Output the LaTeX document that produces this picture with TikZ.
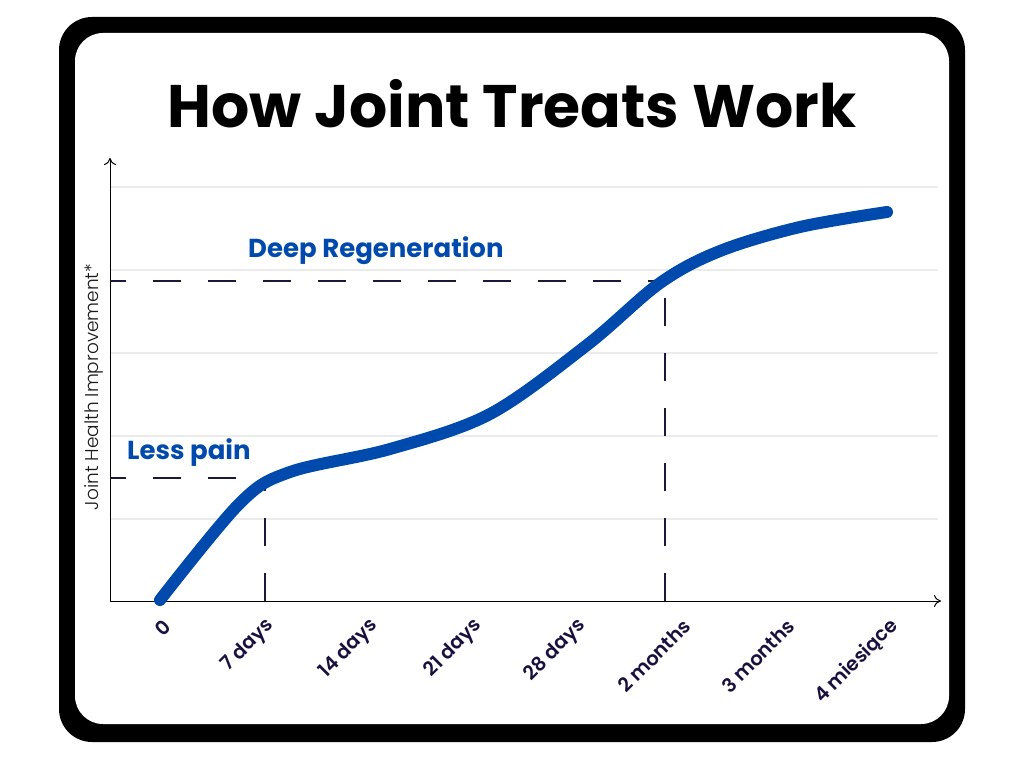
\documentclass[tikz,border=0pt]{standalone}
\usepackage{fontspec}
\setmainfont{Poppins}
\newfontfamily\psemi{Poppins SemiBold}
\newfontfamily\plight{Poppins Light}
\usetikzlibrary{arrows.meta}
\definecolor{cblue}{HTML}{004AAD}
\definecolor{navy}{HTML}{1A1040}
\definecolor{gridc}{HTML}{EBEBEB}
\definecolor{dashc}{HTML}{1E1838}
\tikzset{
  gridline/.style={draw=gridc, line width=1.2pt},
  axisline/.style={draw=black, line width=1pt, -{To[length=7pt,width=12pt]}},
  dashline/.style={draw=dashc, line width=1.8pt, dash pattern=on 28pt off 27pt, dash phase=12pt},
  curve/.style={draw=cblue, line width=12pt, line cap=round, line join=round},
  ticklabel/.style={font=\psemi\fontsize{19.5}{22}\selectfont, text=navy, rotate=45, anchor=east, inner sep=0pt},
  stagelabel/.style={font=\bfseries\fontsize{26}{30}\selectfont, text=cblue, anchor=base west, inner sep=0pt},
}
\begin{document}
\begin{tikzpicture}[x=1pt,y=-1pt]
\useasboundingbox (0,0) rectangle (1024,768);
\fill[white] (0,0) rectangle (1024,768);
% frame
\fill[black, rounded corners=33pt] (59,17) rectangle (965,742);
\fill[white, rounded corners=28pt] (75,33) rectangle (949,724);
% title
\node[font=\bfseries\fontsize{60}{70}\selectfont, anchor=base, inner sep=0pt] (title) at (512,127) {How Joint Treats Work};
% grid
\foreach \yy in {187,270,353,436,519} {\draw[gridline] (110,\yy) -- (938,\yy);}
% axes
\coordinate (origin) at (110,601);
\coordinate (ytop) at (110,158);
\coordinate (xend) at (941,601);
\draw[axisline] (origin) -- (ytop);
\draw[axisline] (origin) -- (xend);
% y label
\node[font=\plight\fontsize{18.5}{21}\selectfont, text=black!90, rotate=90, inner sep=0pt] (ylab) at (94,387) {Joint Health Improvement*};
% dashed guides
\coordinate (p1) at (265,478);
\coordinate (p1y) at (110,478);
\coordinate (p1x) at (265,601);
\coordinate (p2) at (665,281);
\coordinate (p2y) at (110,281);
\coordinate (p2x) at (665,601);
\draw[dashline] (p1y) -- (p1);
\draw[dashline, dash phase=0pt] (p1x) -- (p1);
\draw[dashline] (p2y) -- (p2);
\draw[dashline, dash phase=0pt] (p2x) -- (p2);
% curve
\draw[curve] plot[smooth, tension=0.55] coordinates {(160,600) (240,503) (290,472) (390,449) (490,414) (587,345) (660,283) (720,251) (800,227) (887,212)};
% stage labels
\node[stagelabel] (less) at (127,459) {Less pain};
\node[stagelabel] (deep) at (248,257) {Deep Regeneration};
% tick labels
\node[ticklabel] (t0) at (167,623) {0};
\node[ticklabel] (t1) at (271,623) {7 days};
\node[ticklabel] (t2) at (375,623) {14 days};
\node[ticklabel] (t3) at (479,623) {21 days};
\node[ticklabel] (t4) at (583,623) {28 days};
\node[ticklabel] (t5) at (687,623) {2 months};
\node[ticklabel] (t6) at (791,623) {3 months};
\node[ticklabel] (t7) at (895,623) {4 miesiące};
\end{tikzpicture}
\end{document}
